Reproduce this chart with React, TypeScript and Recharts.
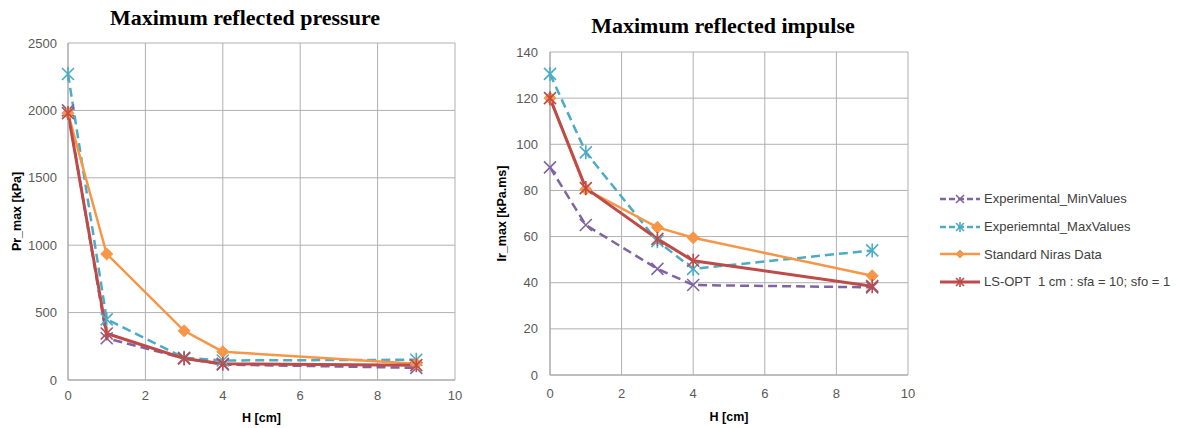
import React from 'react';
import { LineChart, Line, XAxis, YAxis, CartesianGrid } from 'recharts';

const hValues = [0, 1, 3, 4, 9];
const prMin = [2000, 310, 160, 115, 90];
const prMax = [2270, 450, 165, 145, 150];
const prNiras = [1980, 935, 365, 210, 120];
const prLsopt = [1980, 345, 160, 120, 110];
const irMin = [90, 65, 46, 39, 38];
const irMax = [130.5, 96.5, 58, 46, 54];
const irNiras = [120, 80.5, 64, 59.5, 43];
const irLsopt = [120, 81, 59, 49.5, 38.5];
const xTicks = [0, 2, 4, 6, 8, 10];
const prTicks = [0, 500, 1000, 1500, 2000, 2500];
const irTicks = [0, 20, 40, 60, 80, 100, 120, 140];
const seriesNames = [
  'Experimental_MinValues',
  'Experiemntal_MaxValues',
  'Standard Niras Data',
  'LS-OPT  1 cm : sfa = 10; sfo = 1',
];

const series = [
  { key: 'min', color: '#8064A2', marker: 'x', dash: '9 5', width: 2.5 },
  { key: 'max', color: '#4BACC6', marker: 'star', dash: '9 5', width: 2.5 },
  { key: 'niras', color: '#F79646', marker: 'diamond', dash: undefined, width: 2.5 },
  { key: 'ls', color: '#BE4B48', marker: 'star', dash: undefined, width: 3 },
];

const prData = hValues.map((h, i) => ({ h, min: prMin[i], max: prMax[i], niras: prNiras[i], ls: prLsopt[i] }));
const irData = hValues.map((h, i) => ({ h, min: irMin[i], max: irMax[i], niras: irNiras[i], ls: irLsopt[i] }));

function Marker({ kind, color, cx, cy, s = 6 }: any) {
  if (kind === 'diamond') {
    return <path d={`M${cx},${cy - s} L${cx + s},${cy} L${cx},${cy + s} L${cx - s},${cy} Z`} fill={color} stroke={color} strokeWidth={1} />;
  }
  const x = (
    <path d={`M${cx - s},${cy - s} L${cx + s},${cy + s} M${cx - s},${cy + s} L${cx + s},${cy - s}`} stroke={color} strokeWidth={1.6} fill="none" />
  );
  if (kind === 'x') return <g>{x}</g>;
  return (
    <g>
      {x}
      <path d={`M${cx},${cy - s - 1} L${cx},${cy + s + 1}`} stroke={color} strokeWidth={1.6} />
    </g>
  );
}

const dotFn = (kind: string, color: string) => (p: any) => (
  <g key={`d-${p.index}`}>
    <Marker kind={kind} color={color} cx={p.cx} cy={p.cy} />
  </g>
);

const tickStyle = { fontFamily: 'Liberation Sans, Arial, sans-serif', fontSize: 13, fill: '#595959' };
const axisLabelStyle = { fontFamily: 'Liberation Sans, Arial, sans-serif', fontSize: 12.5, fontWeight: 'bold', fill: '#000' };
const titleStyle: React.CSSProperties = {
  position: 'absolute',
  fontFamily: '"Liberation Serif", "DejaVu Serif", serif',
  fontWeight: 'bold',
  fontSize: 22,
  color: '#000',
  whiteSpace: 'nowrap',
  transform: 'translateX(-50%)',
};

const LegendBox = () => (
  <div style={{ position: 'absolute', left: 939, top: 185, fontFamily: 'Liberation Sans, Arial, sans-serif', fontSize: 13, color: '#404040' }}>
    {series.map((s, i) => (
      <div key={s.key} style={{ display: 'flex', alignItems: 'center', height: 27.7, whiteSpace: 'pre' }}>
        <svg width={42} height={16} style={{ marginRight: 3 }}>
          <line x1={1} y1={8} x2={41} y2={8} stroke={s.color} strokeWidth={s.width} strokeDasharray={s.dash ? '6 3' : undefined} />
          <Marker kind={s.marker} color={s.color} cx={21} cy={8} s={4} />
        </svg>
        <span>{seriesNames[i]}</span>
      </div>
    ))}
  </div>
);

function Lines() {
  return series.map((s) => (
    <Line
      key={s.key}
      dataKey={s.key}
      type="linear"
      stroke={s.color}
      strokeWidth={s.width}
      strokeDasharray={s.dash}
      dot={dotFn(s.marker, s.color)}
      activeDot={false}
      isAnimationActive={false}
    />
  ));
}

export default function App() {
  return (
    <div style={{ position: 'absolute', left: 0, top: 0, width: 1177, height: 428, background: '#fff', overflow: 'hidden' }}>
      <div style={{ ...titleStyle, left: 245, top: 5 }}>Maximum reflected pressure</div>
      <div style={{ ...titleStyle, left: 723, top: 13 }}>Maximum reflected impulse</div>

      <div style={{ position: 'absolute', left: 0, top: 0 }}>
        <LineChart width={470} height={428} data={prData} margin={{ top: 43, right: 15, bottom: 18, left: 0 }}>
          <CartesianGrid stroke="#b0b0b0" vertical horizontal />
          <XAxis
            dataKey="h"
            type="number"
            domain={[0, 10]}
            ticks={xTicks}
            height={30}
            tickLine={false}
            tickSize={0}
            tickMargin={11}
            stroke="#a6a6a6"
            tick={tickStyle}
            label={{ value: 'H [cm]', position: 'bottom', offset: 3, style: axisLabelStyle }}
          />
          <YAxis
            type="number"
            domain={[0, 2500]}
            ticks={prTicks}
            width={68}
            tickLine={false}
            tickSize={0}
            tickMargin={11}
            stroke="#a6a6a6"
            tick={tickStyle}
            label={{ value: 'Pr_max [kPa]', angle: -90, position: 'insideLeft', offset: 17, style: { ...axisLabelStyle, textAnchor: 'middle' } }}
          />
          {Lines()}
        </LineChart>
      </div>

      <div style={{ position: 'absolute', left: 470, top: 0 }}>
        <LineChart width={460} height={428} data={irData} margin={{ top: 52, right: 22, bottom: 23, left: 0 }}>
          <CartesianGrid stroke="#b0b0b0" vertical horizontal />
          <XAxis
            dataKey="h"
            type="number"
            domain={[0, 10]}
            ticks={xTicks}
            height={30}
            tickLine={false}
            tickSize={0}
            tickMargin={14}
            stroke="#a6a6a6"
            tick={tickStyle}
            label={{ value: 'H [cm]', position: 'bottom', offset: 7, style: axisLabelStyle }}
          />
          <YAxis
            type="number"
            domain={[0, 140]}
            ticks={irTicks}
            width={80}
            tickLine={false}
            tickSize={0}
            tickMargin={12}
            stroke="#a6a6a6"
            tick={tickStyle}
            label={{ value: 'Ir_max [kPa.ms]', angle: -90, position: 'insideLeft', offset: 32, style: { ...axisLabelStyle, textAnchor: 'middle' } }}
          />
          {Lines()}
        </LineChart>
      </div>

      <LegendBox />
    </div>
  );
}
